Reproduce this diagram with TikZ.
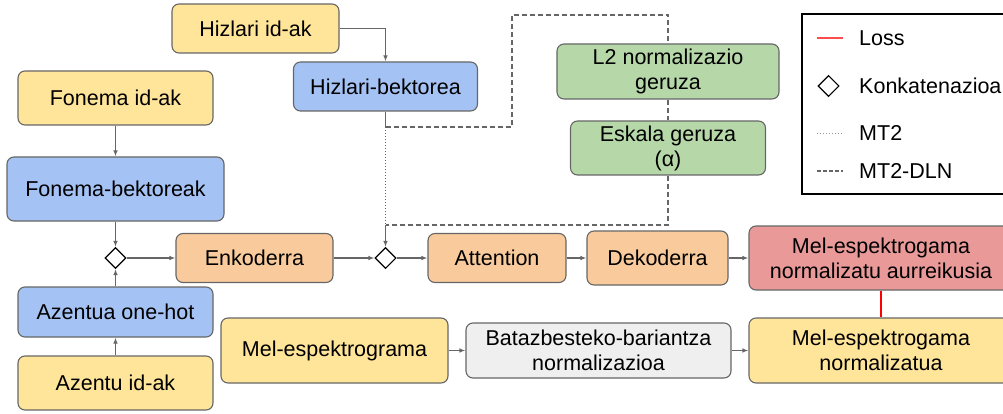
\documentclass[tikz,border=0pt]{standalone}
\usepackage{fontspec}
\setmainfont{Liberation Sans}
\usetikzlibrary{shapes.geometric,arrows.meta,positioning}
\definecolor{IdColor}{HTML}{FFE599}
\definecolor{VecColor}{HTML}{A4C2F4}
\definecolor{NetColor}{HTML}{F9CB9C}
\definecolor{NormColor}{HTML}{B6D7A8}
\definecolor{PredColor}{HTML}{EA9999}
\definecolor{MvnColor}{HTML}{EFEFEF}
\definecolor{LineColor}{HTML}{666666}
\definecolor{LossColor}{HTML}{FF0000}

\begin{document}
\begin{tikzpicture}[x=1pt,y=-1pt,
      box/.style={rectangle,rounded corners=7pt,draw=LineColor,line width=1.1pt,
        inner sep=0pt,align=center,font=\fontsize{21.5}{25}\selectfont},
      wh/.style 2 args={minimum width=#1pt,minimum height=#2pt},
      cat/.style={diamond,draw=black,fill=white,line width=1.1pt,inner sep=0pt,minimum size=21pt},
      edge/.style={-{Latex[length=6pt,width=4.5pt]},draw=LineColor,line width=1.1pt},
      plain/.style={draw=LineColor,line width=1.1pt},
      mttwo/.style={draw=LineColor,line width=0.9pt,dash pattern=on 1pt off 2pt},
      dln/.style={draw=LineColor,line width=1.1pt,dash pattern=on 5pt off 3pt},
      loss/.style={draw=LossColor,line width=1.1pt},
      legtext/.style={anchor=west,inner sep=0pt,font=\fontsize{21.5}{25}\selectfont},
      >=Latex
    ]
    \useasboundingbox (0,0) rectangle (1003,414);
    % speaker branch
    \node[box,fill=IdColor,wh={167}{49}] (hid) at (255.5,28.5) {Hizlari id-ak};
    \node[box,fill=VecColor,wh={184}{49}] (hvec) at (385.5,86.5) {Hizlari-bektorea};
    \node[box,fill=NormColor,wh={222}{55}] (l2) at (668,71.5) {L2 normalizazio\\geruza};
    \node[box,fill=NormColor,wh={195}{54}] (scale) at (668,148) {Eskala geruza\\(α)};
    % phoneme and accent inputs
    \node[box,fill=IdColor,wh={195}{54}] (fid) at (115.5,98) {Fonema id-ak};
    \node[box,fill=VecColor,wh={217}{64}] (fvec) at (115.5,189) {Fonema-bektoreak};
    \node[cat] (cat1) at (115.5,258) {};
    \node[box,fill=VecColor,wh={195}{50}] (aoh) at (115.5,312) {Azentua one-hot};
    \node[box,fill=IdColor,wh={195}{54}] (aid) at (115.5,383) {Azentu id-ak};
    % main chain
    \node[box,fill=NetColor,wh={157}{49}] (enc) at (254.5,258) {Enkoderra};
    \node[cat] (cat2) at (385.5,258) {};
    \node[box,fill=NetColor,wh={138}{49}] (att) at (497,258) {Attention};
    \node[box,fill=NetColor,wh={141}{54}] (dec) at (657.5,258) {Dekoderra};
    \node[box,fill=PredColor,wh={264}{64}] (pred) at (881,258) {Mel-espektrogama\\normalizatu aurreikusia};
    % target branch
    \node[box,fill=IdColor,wh={227}{65}] (mel) at (334.5,350.5) {Mel-espektrograma};
    \node[box,fill=MvnColor,wh={265}{55}] (mvn) at (598.5,350.5) {Batazbesteko-bariantza\\normalizazioa};
    \node[box,fill=IdColor,wh={264}{65}] (mnorm) at (881,350.5) {Mel-espektrogama\\normalizatua};

    \draw[edge] (hid.east) -| (hvec.north);
    \foreach \a/\b in {fid/fvec,fvec/cat1,aid/aoh,aoh/cat1} \draw[edge] (\a) -- (\b);
    \foreach \a/\b in {cat1/enc,enc/cat2,cat2/att,att/dec,dec/pred,mel/mvn,mvn/mnorm}
      \draw[edge] (\a) -- (\b);
    \draw[loss] (pred) -- (mnorm);

    % speaker vector paths
    \coordinate (split) at (385.5,127);
    \coordinate (join) at (385.5,225);
    \coordinate (up) at (512,15);
    \draw[plain] (hvec.south) -- (split);
    \draw[mttwo] (split) -- (join);
    \draw[dln] (split) -| (up) -| (l2.north);
    \draw[dln] (l2.south) -- (scale.north);
    \draw[dln] (scale.south) |- (join);
    \draw[edge] (join) -- (cat2.north);

    % legend
    \node[draw=black,line width=1.1pt,minimum width=220pt,minimum height=180pt] (legend) at (912,104) {};
    \node[legtext] (lloss) at (859,38) {Loss};
    \node[legtext] (lcat) at (859,86) {Konkatenazioa};
    \node[legtext] (lmt) at (859,133) {MT2};
    \node[legtext] (ldln) at (859,171) {MT2-DLN};
    \draw[draw=LossColor!70,line width=1.1pt] ([xshift=-42pt]lloss.west) -- ([xshift=-16pt]lloss.west);
    \node[cat] (lcatsym) at (828.5,86) {};
    \draw[mttwo,draw=LineColor!70] ([xshift=-42pt]lmt.west) -- ([xshift=-16pt]lmt.west);
    \draw[dln,dash pattern=on 4pt off 2pt] ([xshift=-42pt]ldln.west) -- ([xshift=-16pt]ldln.west);
  \end{tikzpicture}
\end{document}
